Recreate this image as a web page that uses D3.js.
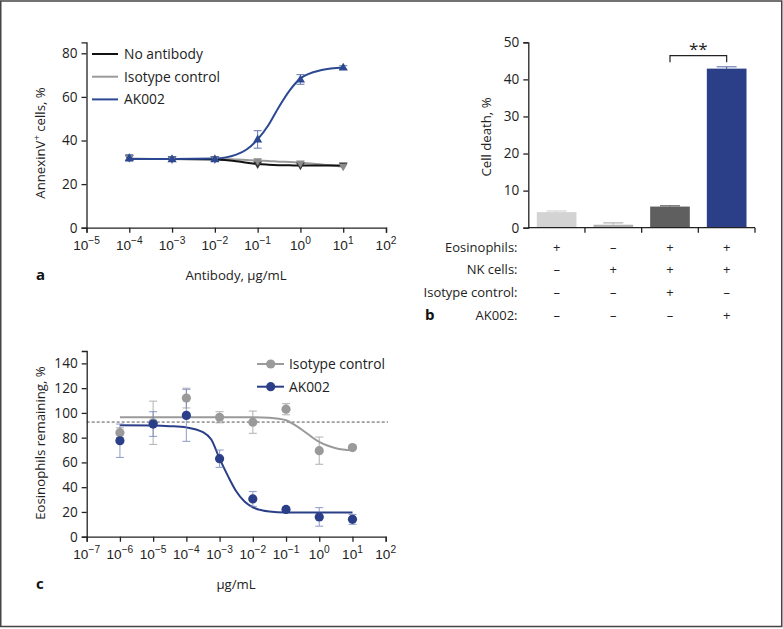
<!DOCTYPE html>
<html><head><meta charset="utf-8">
<script src="https://cdn.jsdelivr.net/npm/d3@7"></script>
<style>
html,body{margin:0;padding:0;background:#fff;}
svg{display:block;font-family:"Open Sans",sans-serif;}
</style></head>
<body>
<svg id="chart" width="783" height="629"></svg>
<script>
// ---------- Panel a data ----------
const aConc = [1e-4, 1e-3, 1e-2, 1e-1, 1, 10];
const aNoAb = [32, 31.5, 31.5, 29, 28.5, 28.5];
const aIso = [32, 31.5, 31.5, 30.5, 29.5, 28];
const aAK = [32, 31.5, 31.5, 40.5, 68, 73.5];
const aAKErr = [1.5, 1, 1, 4, 2.2, 0.8];
// fitted curves (log10 conc, value)
const aCurveLog = [-4, -3, -2, -1.5, -1.25, -1, -0.75, -0.5, -0.25, 0, 0.5, 1];
const aCurveAK = [31.5, 31.5, 31.7, 33.5, 36, 40.5, 47, 55.5, 63, 68.5, 72.3, 73.5];
const aCurveNoAb = [31.5, 31.5, 31.3, 30.5, 29.8, 29.2, 28.9, 28.7, 28.6, 28.5, 28.5, 28.5];
const aCurveIso = [31.8, 31.5, 31.5, 31.3, 31.1, 30.8, 30.6, 30.3, 30.1, 29.8, 29, 28.0];
const aSeriesNames = ["No antibody", "Isotype control", "AK002"];
const aXExp = [-5, -4, -3, -2, -1, 0, 1, 2];
const aYTicks = [0, 20, 40, 60, 80];

// ---------- Panel b data ----------
const bGroups = ["1", "2", "3", "4"];
const bValues = [4.2, 0.8, 5.7, 42.9];
const bErr = [0.3, 0.5, 0.2, 0.5];
const bRowLabels = ["Eosinophils:", "NK cells:", "Isotype control:", "AK002:"];
const bRows = [["+", "–", "+", "+"], ["–", "+", "+", "+"], ["–", "–", "+", "–"], ["–", "–", "–", "+"]];
const bYTicks = [0, 10, 20, 30, 40, 50];
const bSig = "**";

// ---------- Panel c data ----------
const cConc = [1e-6, 1e-5, 1e-4, 1e-3, 1e-2, 1e-1, 1, 10];
const cIso = [84, 92, 112, 96.5, 92.5, 103, 69.5, 72];
const cIsoErr = [4, 17.5, 8, 4.5, 9, 4.5, 11, 1];
const cAK = [77.5, 91, 98, 63, 30.5, 22, 16, 14];
const cAKErr = [13.5, 10, 21, 7, 6, 1, 7.5, 4];
const cCurveIsoLog = [-6, -5, -4, -3, -2, -1.5, -1, -0.75, -0.5, -0.25, 0, 0.5, 1];
const cCurveIso = [96.5, 96.5, 96.5, 96.5, 96.4, 96, 94, 90.5, 86, 81, 76.5, 71.5, 69.8];
const cCurveAKLog = [-6, -5, -4.5, -4, -3.5, -3.25, -3, -2.75, -2.5, -2.25, -2, -1.5, -1, 0, 1];
const cCurveAK = [90, 89.8, 89.3, 88.3, 84.4, 78.5, 63, 49.1, 36.7, 28.4, 23.8, 20.4, 19.6, 19.5, 19.5];
const cRefLine = 92.6;
const cSeriesNames = ["Isotype control", "AK002"];
const cXExp = [-7, -6, -5, -4, -3, -2, -1, 0, 1, 2];
const cYTicks = [0, 20, 40, 60, 80, 100, 120, 140];

// ---------- styles ----------
const BLUE = "#2d4893";
const NAVY = "#2b3f88";
const GRAY = "#9a9a9a";
const AXIS = "#222";
const FS = 13.2;   // labels
const TFS = 13.6;  // tick labels

const svg = d3.select("#chart");
svg.append("rect").attr("x", 0.75).attr("y", 1).attr("width", 781).attr("height", 625.5)
  .attr("fill", "#fff").attr("stroke", "#444").attr("stroke-width", 1.5);

function styleAxis(g) {
  g.selectAll(".domain").attr("stroke", AXIS).attr("stroke-width", 1.3);
  g.selectAll(".tick line").attr("stroke", AXIS).attr("stroke-width", 1.3);
  g.selectAll("text").attr("font-size", TFS).attr("fill", "#222").attr("font-family", "Open Sans, sans-serif");
}

function logXAxis(x, y0, exps) {
  const g = svg.append("g").attr("transform", `translate(0,${y0})`);
  g.call(d3.axisBottom(x).tickValues(exps.map(e => Math.pow(10, e))).tickSize(5).tickFormat(""));
  styleAxis(g);
  const t = g.selectAll(".lbl").data(exps).enter().append("text")
    .attr("x", e => x(Math.pow(10, e))).attr("y", 22)
    .attr("text-anchor", "middle").attr("font-size", TFS).attr("fill", "#222");
  t.append("tspan").text("10");
  t.append("tspan").attr("dy", -6).attr("font-size", 10.2).text(e => String(e).replace("-", "−"));
  return g;
}

function yAxis(y, x0, ticks) {
  const g = svg.append("g").attr("transform", `translate(${x0},0)`);
  g.call(d3.axisLeft(y).tickValues(ticks).tickSize(5).tickPadding(4));
  styleAxis(g);
  return g;
}

function triangle(up, size) {
  const s = size;
  return up ? `M0,${-s}L${s * 0.95},${s * 0.65}L${-s * 0.95},${s * 0.65}Z`
            : `M0,${s}L${s * 0.95},${-s * 0.65}L${-s * 0.95},${-s * 0.65}Z`;
}

// ================= Panel a =================
(function () {
  const x = d3.scaleLog().domain([1e-5, 1e2]).range([86.5, 386]);
  const y = d3.scaleLinear().domain([0, 85]).range([227.7, 42.4]);
  const line = d3.line().x(d => x(Math.pow(10, d[0]))).y(d => y(d[1])).curve(d3.curveMonotoneX);

  const curves = [
    { v: aCurveIso, c: GRAY },
    { v: aCurveNoAb, c: "#111" },
    { v: aCurveAK, c: BLUE }
  ];
  curves.forEach(cv => {
    svg.append("path").datum(aCurveLog.map((l, i) => [l, cv.v[i]]))
      .attr("d", line).attr("fill", "none").attr("stroke", cv.c).attr("stroke-width", 2);
  });

  const pts = [
    { v: aNoAb, c: "#333", up: false },
    { v: aIso, c: "#8c8c8c", up: false },
  ];
  pts.forEach(p => {
    svg.append("g").selectAll("path").data(aConc).enter().append("path")
      .attr("transform", (d, i) => `translate(${x(d)},${y(p.v[i])})`)
      .attr("d", triangle(p.up, 4.6)).attr("fill", p.c);
  });
  const eb = svg.append("g").attr("stroke", BLUE).attr("stroke-width", 1).attr("opacity", 0.75);
  aConc.forEach((d, i) => {
    const cx = x(d), y1 = y(aAK[i] + aAKErr[i]), y2 = y(aAK[i] - aAKErr[i]);
    eb.append("line").attr("x1", cx).attr("x2", cx).attr("y1", y1).attr("y2", y2);
    eb.append("line").attr("x1", cx - 4).attr("x2", cx + 4).attr("y1", y1).attr("y2", y1);
    eb.append("line").attr("x1", cx - 4).attr("x2", cx + 4).attr("y1", y2).attr("y2", y2);
  });
  svg.append("g").selectAll("path").data(aConc).enter().append("path")
    .attr("transform", (d, i) => `translate(${x(d)},${y(aAK[i])})`)
    .attr("d", triangle(true, 4.8)).attr("fill", BLUE);

  logXAxis(x, 227.7, aXExp);
  yAxis(y, 86.5, aYTicks);

  const lc = ["#111", GRAY, BLUE];
  aSeriesNames.forEach((n, i) => {
    const ly = 54 + i * 22.7;
    svg.append("line").attr("x1", 92).attr("x2", 118).attr("y1", ly).attr("y2", ly)
      .attr("stroke", lc[i]).attr("stroke-width", 2);
    svg.append("text").attr("x", 124).attr("y", ly + 5).attr("font-size", FS + 0.6).attr("fill", "#222").text(n);
  });

  const yl = svg.append("text").attr("transform", "translate(45,143) rotate(-90)")
    .attr("text-anchor", "middle").attr("font-size", FS).attr("fill", "#222");
  yl.append("tspan").text("AnnexinV");
  yl.append("tspan").attr("dy", -5).attr("font-size", 9.5).text("+");
  yl.append("tspan").attr("dy", 5).text(" cells, %");

  svg.append("text").attr("x", 236).attr("y", 280).attr("text-anchor", "middle")
    .attr("font-size", FS).attr("fill", "#222").text("Antibody, µg/mL");
  svg.append("text").attr("x", 36).attr("y", 280).attr("font-size", 15).attr("font-weight", "bold")
    .attr("fill", "#111").text("a");
})();

// ================= Panel b =================
(function () {
  const x = d3.scaleBand().domain(bGroups).range([528.3, 755]).paddingInner(0.3).paddingOuter(0.15);
  const y = d3.scaleLinear().domain([0, 50]).range([227.7, 42.3]);
  const colors = ["#d3d3d3", "#b0b0b0", "#5f5f5f", NAVY];

  svg.append("g").selectAll("rect").data(bGroups).enter().append("rect")
    .attr("x", d => x(d)).attr("width", x.bandwidth())
    .attr("y", (d, i) => y(bValues[i])).attr("height", (d, i) => y(0) - y(bValues[i]))
    .attr("fill", (d, i) => colors[i]);
  const eb = svg.append("g");
  bGroups.forEach((g, i) => {
    const cx = x(g) + x.bandwidth() / 2, yt = y(bValues[i] + bErr[i]), yv = y(bValues[i]);
    eb.append("line").attr("x1", cx).attr("x2", cx).attr("y1", yt).attr("y2", yv).attr("stroke", colors[i]).attr("stroke-width", 1);
    eb.append("line").attr("x1", cx - 10).attr("x2", cx + 10).attr("y1", yt).attr("y2", yt).attr("stroke", i === 3 ? "#6f7fb5" : colors[i]).attr("stroke-width", 1.2);
  });

  const ax = svg.append("g").attr("transform", "translate(0,227.7)");
  ax.append("line").attr("x1", 528.3).attr("x2", 755).attr("stroke", AXIS).attr("stroke-width", 1.3);
  const step = x.step();
  const bounds = d3.range(1, bGroups.length + 1).map(k => x.range()[0] + k * step);
  ax.selectAll(".bt").data(bounds).enter().append("line")
    .attr("x1", d => d).attr("x2", d => d).attr("y1", 0).attr("y2", 5)
    .attr("stroke", AXIS).attr("stroke-width", 1.3);
  yAxis(y, 528.3, bYTicks);

  const c3 = x(bGroups[2]) + x.bandwidth() / 2, c4 = x(bGroups[3]) + x.bandwidth() / 2;
  svg.append("path").attr("d", `M${c3},62.3V55.7H${c4}V62.3`).attr("fill", "none")
    .attr("stroke", "#222").attr("stroke-width", 1.2);
  svg.append("text").attr("x", (c3 + c4) / 2).attr("y", 55).attr("text-anchor", "middle")
    .attr("font-size", 17).attr("fill", "#222").text(bSig);

  bRowLabels.forEach((lab, r) => {
    const ty = 251.5 + r * 22.8;
    svg.append("text").attr("x", 517.5).attr("y", ty).attr("text-anchor", "end")
      .attr("font-size", 13).attr("fill", "#222").text(lab);
    bRows[r].forEach((s, k) => {
      svg.append("text").attr("x", x(bGroups[k]) + x.bandwidth() / 2).attr("y", ty)
        .attr("text-anchor", "middle").attr("font-size", 13).attr("fill", "#222").text(s);
    });
  });

  svg.append("text").attr("transform", "translate(491,137) rotate(-90)")
    .attr("text-anchor", "middle").attr("font-size", FS).attr("fill", "#222").text("Cell death, %");
  svg.append("text").attr("x", 425).attr("y", 320).attr("font-size", 15).attr("font-weight", "bold")
    .attr("fill", "#111").text("b");
})();

// ================= Panel c =================
(function () {
  const x = d3.scaleLog().domain([1e-7, 1e2]).range([86.7, 385.7]);
  const y = d3.scaleLinear().domain([0, 150]).range([536.7, 351]);
  const line = d3.line().x(d => x(Math.pow(10, d[0]))).y(d => y(d[1])).curve(d3.curveMonotoneX);

  svg.append("line").attr("x1", 86.7).attr("x2", 388).attr("y1", y(cRefLine)).attr("y2", y(cRefLine))
    .attr("stroke", "#555").attr("stroke-width", 1).attr("stroke-dasharray", "3,2");

  svg.append("path").datum(cCurveIsoLog.map((l, i) => [l, cCurveIso[i]]))
    .attr("d", line).attr("fill", "none").attr("stroke", GRAY).attr("stroke-width", 2);
  svg.append("path").datum(cCurveAKLog.map((l, i) => [l, cCurveAK[i]]))
    .attr("d", line).attr("fill", "none").attr("stroke", NAVY).attr("stroke-width", 2);

  function errBars(vals, errs, color) {
    const g = svg.append("g").attr("stroke", color).attr("stroke-width", 1.1).attr("opacity", 0.7);
    cConc.forEach((d, i) => {
      const cx = x(d), y1 = y(vals[i] + errs[i]), y2 = y(vals[i] - errs[i]);
      g.append("line").attr("x1", cx).attr("x2", cx).attr("y1", y1).attr("y2", y2);
      g.append("line").attr("x1", cx - 4).attr("x2", cx + 4).attr("y1", y1).attr("y2", y1);
      g.append("line").attr("x1", cx - 4).attr("x2", cx + 4).attr("y1", y2).attr("y2", y2);
    });
  }
  errBars(cIso, cIsoErr, "#9a9a9a");
  errBars(cAK, cAKErr, "#6a7db5");
  svg.append("g").selectAll("circle").data(cConc).enter().append("circle")
    .attr("cx", d => x(d)).attr("cy", (d, i) => y(cIso[i])).attr("r", 4.6).attr("fill", GRAY);
  svg.append("g").selectAll("circle").data(cConc).enter().append("circle")
    .attr("cx", d => x(d)).attr("cy", (d, i) => y(cAK[i])).attr("r", 4.6).attr("fill", NAVY);

  logXAxis(x, 536.7, cXExp);
  yAxis(y, 86.7, cYTicks);

  const lc = [GRAY, NAVY];
  cSeriesNames.forEach((n, i) => {
    const ly = 364 + i * 22.7;
    svg.append("line").attr("x1", 257).attr("x2", 284).attr("y1", ly).attr("y2", ly)
      .attr("stroke", lc[i]).attr("stroke-width", 2);
    svg.append("circle").attr("cx", 270.7).attr("cy", ly).attr("r", 4.6).attr("fill", lc[i]);
    svg.append("text").attr("x", 289).attr("y", ly + 5).attr("font-size", FS + 0.6).attr("fill", "#222").text(n);
  });

  svg.append("text").attr("transform", "translate(45,443) rotate(-90)")
    .attr("text-anchor", "middle").attr("font-size", FS).attr("fill", "#222").text("Eosinophils remaining, %");
  svg.append("text").attr("x", 236).attr("y", 589).attr("text-anchor", "middle")
    .attr("font-size", FS).attr("fill", "#222").text("µg/mL");
  svg.append("text").attr("x", 36).attr("y", 589).attr("font-size", 15).attr("font-weight", "bold")
    .attr("fill", "#111").text("c");
})();
</script>
</body></html>
